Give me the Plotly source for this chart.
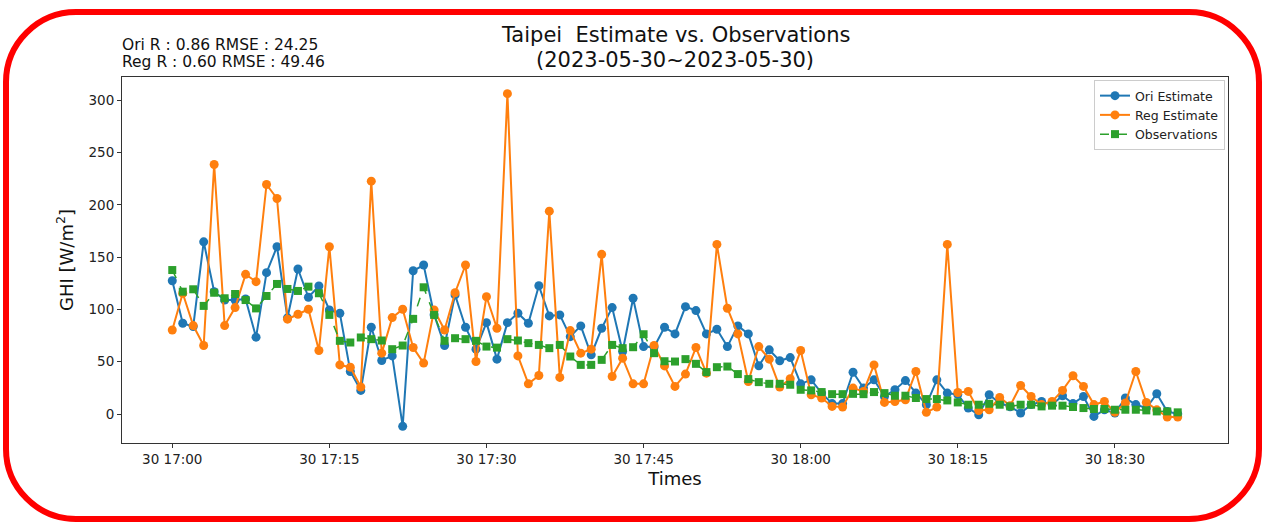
import pandas as pd
import plotly.graph_objects as go

# ---- data (one value per minute, 2023-05-30 17:00 .. 18:36) ----
start_time = "2023-05-30 17:00"
n_points = 97
times = pd.date_range(start_time, periods=n_points, freq="1min")

ori_estimate = [127.5, 86.8, 83.6, 164.7, 117, 109, 109, 110, 73.5, 135.2,
                160, 92, 138.7, 111.7, 122.4, 99.5, 96.4, 40.7, 22.6, 83,
                51.2, 55.6, -11.8, 137, 142.5, 95, 65.5, 113.9, 83, 62,
                87.4, 52.5, 87.4, 96.4, 86.8, 122.7, 93.8, 94.8, 74, 84.3,
                56.6, 82, 101.8, 59.8, 110.7, 64.5, 64, 83, 76.6, 102.7,
                98.9, 76.6, 81.1, 64.5, 84.3, 76.6, 46.1, 61.4, 50.9, 54,
                28.9, 32.7, 20, 10, 10, 40, 24.8, 32.7, 16.8, 23.2,
                32, 20, 8.9, 32.7, 20, 18.6, 5.7, -0.7, 18.4, 10.5,
                7, 1, 9, 12, 9, 17.5, 10, 16.8, -2.3, 4,
                1, 15.3, 9, 5.7, 19.4, 2.5, 0]

reg_estimate = [80.4, 115.5, 84.6, 65.5, 238.6, 84.6, 101.8, 133.6, 126.6, 219.5,
                206.1, 90.7, 95.4, 100.2, 60.7, 160, 47, 44.8, 25.8, 222.7,
                58.2, 92.2, 100.2, 63.6, 48.7, 99.5, 80.4, 116, 142.5, 50.2,
                112.2, 82, 306.4, 55.6, 28.9, 36.8, 194, 35, 79.8, 58.2,
                62, 152.7, 35.9, 53.4, 28.9, 28.9, 65.5, 46, 26.4, 38.2,
                63.6, 39.1, 162.2, 101.2, 76.6, 31.1, 64.5, 52.5, 25.8, 33.7,
                60.7, 18.4, 15.3, 7.3, 6.7, 24.8, 21.6, 47, 11.1, 12,
                13.6, 40.7, 1.6, 6.7, 162.2, 20.6, 21.6, 3.4, 4, 15.8,
                8, 27.3, 16.8, 9, 12, 22.6, 36.6, 26.4, 9, 12,
                1.6, 10.5, 40.7, 11.1, 4, -2.9, -2.9]

observations = [137.7, 117, 119.3, 103.4, 116, 110.7, 114.8, 109, 101, 112.9,
                124.4, 119.6, 117.7, 121.8, 115.5, 94.8, 70, 68.4, 73.2, 71.6,
                70.3, 62, 65.5, 91, 121.2, 94.8, 70, 72.5, 71.6, 70,
                64.5, 63.5, 71.6, 70.3, 67.8, 66.1, 63, 66.1, 55, 47,
                47, 51.8, 66.1, 63, 63.9, 76.3, 58.2, 50.5, 50.2, 52.5,
                48, 40.1, 44.8, 45.4, 38.2, 33.4, 30.5, 28.9, 28.9, 28,
                23.2, 22.6, 21, 19, 19, 19.3, 19, 21, 20, 17.5,
                17.5, 15.3, 14.3, 14.3, 13, 11.1, 8.9, 8.9, 9.8, 8.9,
                7.3, 8.9, 8.9, 7.3, 8, 8, 6.7, 5.7, 4.8, 4.8,
                4.1, 4.1, 4.1, 3.5, 2.5, 2.5, 1.6]

tick_times = ["2023-05-30 17:00", "2023-05-30 17:15", "2023-05-30 17:30",
              "2023-05-30 17:45", "2023-05-30 18:00", "2023-05-30 18:15",
              "2023-05-30 18:30"]
tick_labels = ["30 17:00", "30 17:15", "30 17:30", "30 17:45",
               "30 18:00", "30 18:15", "30 18:30"]
y_ticks = [0, 50, 100, 150, 200, 250, 300]

title_line1 = "Taipei  Estimate vs. Observations"
title_line2 = "(2023-05-30~2023-05-30)"
stats_ori = "Ori R : 0.86 RMSE : 24.25"
stats_reg = "Reg R : 0.60 RMSE : 49.46"

# ---- layout geometry ----
W, H = 1266, 526
L, R, T, B = 122, 38, 77, 83
PW, PH = W - L - R, H - T - B
FONT = "DejaVu Sans"


def px(x):
    return (x - L) / PW


def py(y):
    return (H - B - y) / PH


fig = go.Figure()
fig.add_trace(go.Scatter(x=times, y=ori_estimate, name="Ori Estimate",
                         mode="lines+markers",
                         line=dict(color="#1f77b4", width=2),
                         marker=dict(symbol="circle", size=9, color="#1f77b4")))
fig.add_trace(go.Scatter(x=times, y=reg_estimate, name="Reg Estimate",
                         mode="lines+markers",
                         line=dict(color="#ff7f0e", width=2),
                         marker=dict(symbol="circle", size=9, color="#ff7f0e")))
fig.add_trace(go.Scatter(x=times, y=observations, name="Observations",
                         mode="lines+markers",
                         line=dict(color="#2ca02c", width=1.5, dash="dash"),
                         marker=dict(symbol="square", size=8, color="#2ca02c")))

span = times[-1] - times[0]
pad = span * 0.05
all_vals = ori_estimate + reg_estimate + observations
ymin, ymax = min(all_vals), max(all_vals)
ypad = (ymax - ymin) * 0.05

axis_common = dict(showline=True, mirror=True, linecolor="#333333", linewidth=1,
                   ticks="outside", ticklen=4, tickcolor="#333333",
                   showgrid=False, zeroline=False,
                   tickfont=dict(family=FONT, size=13.5, color="#222222"))

fig.update_xaxes(type="date", range=[times[0] - pad, times[-1] + pad],
                 tickvals=pd.to_datetime(tick_times), ticktext=tick_labels,
                 title=dict(text="Times", font=dict(family=FONT, size=18, color="#111111"),
                            standoff=6),
                 **axis_common)
fig.update_yaxes(range=[ymin - ypad, ymax + ypad], tickvals=y_ticks,
                 title=dict(text="GHI [W/m<sup>2</sup>]",
                            font=dict(family=FONT, size=18, color="#111111"),
                            standoff=10),
                 **axis_common)

annotations = [
    dict(text=title_line1, x=px(675), y=py(35), showarrow=False,
         xanchor="center", yanchor="middle",
         font=dict(family=FONT, size=21, color="#111111")),
    dict(text=title_line2, x=px(675), y=py(60), showarrow=False,
         xanchor="center", yanchor="middle",
         font=dict(family=FONT, size=21, color="#111111")),
    dict(text=stats_ori, x=px(120), y=py(45), showarrow=False,
         xanchor="left", yanchor="middle",
         font=dict(family=FONT, size=15.5, color="#111111")),
    dict(text=stats_reg, x=px(120), y=py(62.5), showarrow=False,
         xanchor="left", yanchor="middle",
         font=dict(family=FONT, size=15.5, color="#111111")),
]
for a in annotations:
    a.update(xref="paper", yref="paper")

# rounded red frame around the whole picture
x0, x1, y0, y1, rad = 6, 1259, 12, 519, 70
k = 0.55 * rad


def P(x, y):
    return f"{px(x):.5f},{py(y):.5f}"


path = (f"M {P(x0 + rad, y0)} L {P(x1 - rad, y0)} "
        f"C {P(x1 - rad + k, y0)} {P(x1, y0 + rad - k)} {P(x1, y0 + rad)} "
        f"L {P(x1, y1 - rad)} "
        f"C {P(x1, y1 - rad + k)} {P(x1 - rad + k, y1)} {P(x1 - rad, y1)} "
        f"L {P(x0 + rad, y1)} "
        f"C {P(x0 + rad - k, y1)} {P(x0, y1 - rad + k)} {P(x0, y1 - rad)} "
        f"L {P(x0, y0 + rad)} "
        f"C {P(x0, y0 + rad - k)} {P(x0 + rad - k, y0)} {P(x0 + rad, y0)} Z")

fig.update_layout(
    width=W, height=H,
    margin=dict(l=L, r=R, t=T, b=B),
    paper_bgcolor="white", plot_bgcolor="white",
    font=dict(family=FONT, color="#222222"),
    annotations=annotations,
    shapes=[dict(type="path", path=path, xref="paper", yref="paper",
                 line=dict(color="#ff0000", width=6), layer="above")],
    legend=dict(x=px(1225), y=py(80), xanchor="right", yanchor="top",
                bgcolor="rgba(255,255,255,0.9)", bordercolor="#cccccc", borderwidth=1,
                font=dict(family=FONT, size=12.5, color="#222222"),
                tracegroupgap=0),
    showlegend=True,
)

fig.write_html("out.html",
               config={"displayModeBar": False},
               post_script="document.body.style.margin='0px';"
                           "document.body.style.overflow='hidden';")
